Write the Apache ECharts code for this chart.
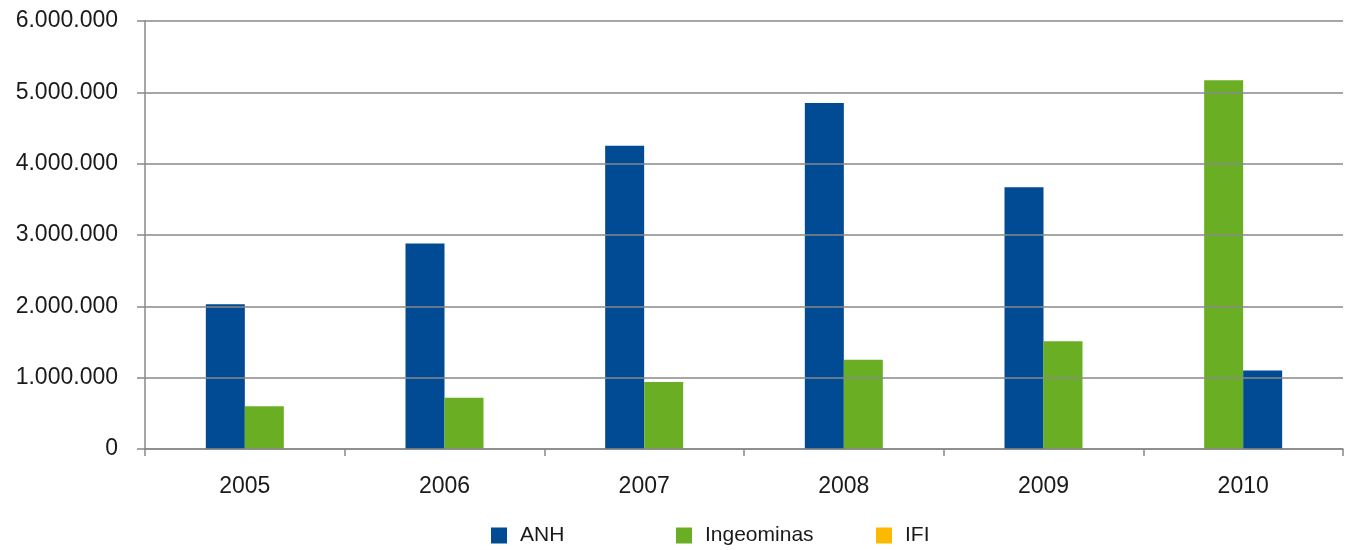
<!DOCTYPE html>
<html>
<head>
<meta charset="utf-8">
<style>
    * { margin: 0; padding: 0; }
    #chart { width: 1353px; height: 550px; background: #fff; }
</style>
<script src="https://cdn.jsdelivr.net/npm/echarts@6/dist/echarts.min.js"></script>
</head>
<body>
<div id="chart"></div>
<script>
    // datos
    var years = ['2005', '2006', '2007', '2008', '2009', '2010'];
    var anh = [2030000, 2880000, 4250000, 4850000, 3670000, 1100000];
    var ingeominas = [600000, 720000, 940000, 1250000, 1510000, 5170000];
    var ifi = [null, null, null, null, null, null];
    // años en que Ingeominas va primero
    var swapped = ['2010'];

    var blue = '#004B93';
    var green = '#6AAF23';
    var yellow = '#FBBA00';
    var font = '"Liberation Sans", Arial, sans-serif';

    function fmt(v) {
        return String(v).replace(/\B(?=(\d{3})+(?!\d))/g, '.');
    }
    function pick(arr, first) {
        return years.map(function (y, i) {
            var isSwap = swapped.indexOf(y) >= 0;
            return (isSwap === first) ? arr[i] : null;
        });
    }

    var barBase = { type: 'bar', barWidth: 39, barGap: '0%', barCategoryGap: '0%' };

    var legendBase = {
        bottom: 4, padding: 0, itemWidth: 16, itemHeight: 16, icon: 'rect',
        textStyle: { fontFamily: font, fontSize: 21, color: '#1a1a1a', padding: [0, 0, 0, 8] }
    };

    var option = {
        animation: false,
        backgroundColor: '#fff',
        grid: { left: 145, right: 10, top: 21, bottom: 101 },
        legend: [
            Object.assign({}, legendBase, { left: 491, data: ['ANH'] }),
            Object.assign({}, legendBase, { left: 676, data: ['Ingeominas'] }),
            Object.assign({}, legendBase, { left: 876, data: ['IFI'] })
        ],
        xAxis: {
            type: 'category',
            data: years,
            axisLine: { lineStyle: { color: '#888', width: 1.5 } },
            axisTick: { show: true, length: 7, lineStyle: { color: '#888', width: 1.5 } },
            axisLabel: { fontFamily: font, fontSize: 23, color: '#1a1a1a', margin: 26 }
        },
        yAxis: {
            type: 'value',
            min: 0, max: 6000000, interval: 1000000,
            z: 5,
            axisLine: { show: true, lineStyle: { color: '#888', width: 1.5 } },
            axisTick: { show: true, length: 8, lineStyle: { color: '#888', width: 1.5 } },
            splitLine: { lineStyle: { color: '#888', width: 1.5 } },
            axisLabel: { fontFamily: font, fontSize: 23, color: '#1a1a1a', margin: 27, formatter: fmt }
        },
        series: [
            Object.assign({}, barBase, { name: 'ANH', stack: 'left', itemStyle: { color: blue }, data: pick(anh, false) }),
            Object.assign({}, barBase, { name: 'Ingeominas', stack: 'left', itemStyle: { color: green }, data: pick(ingeominas, true) }),
            Object.assign({}, barBase, { name: 'IFI', stack: 'left', itemStyle: { color: yellow }, data: ifi }),
            Object.assign({}, barBase, { name: 'Ingeominas', stack: 'right', itemStyle: { color: green }, data: pick(ingeominas, false) }),
            Object.assign({}, barBase, { name: 'ANH', stack: 'right', itemStyle: { color: blue }, data: pick(anh, true) })
        ]
    };

    var myChart = echarts.init(document.getElementById('chart'));
    myChart.setOption(option);
</script>
</body>
</html>
